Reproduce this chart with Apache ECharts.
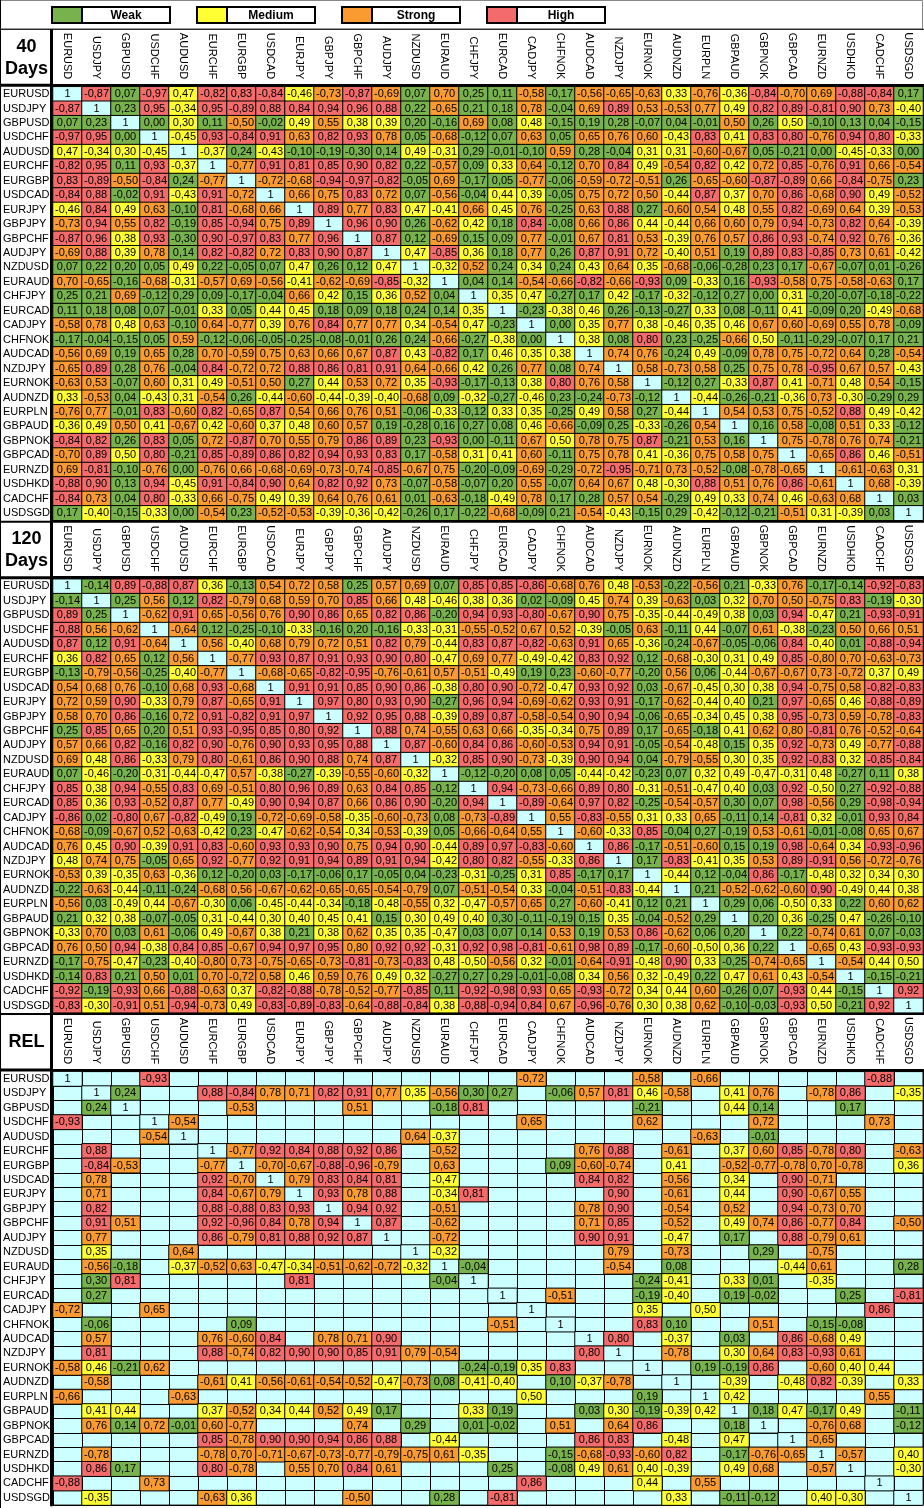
<!DOCTYPE html>
<html>
<head>
<meta charset="utf-8">
<title>Currency correlation</title>
<script src="https://cdn.jsdelivr.net/npm/echarts@6/dist/echarts.min.js"></script>
<style>
  html, body { margin: 0; padding: 0; background: #fff; }
  #chart { width: 924px; height: 1508px; }
</style>
</head>
<body>
<div id="chart"></div>
<script>
const _ = null; // blank cell

const pairs = ['EURUSD', 'USDJPY', 'GBPUSD', 'USDCHF', 'AUDUSD', 'EURCHF', 'EURGBP', 'USDCAD', 'EURJPY', 'GBPJPY',
  'GBPCHF', 'AUDJPY', 'NZDUSD', 'EURAUD', 'CHFJPY', 'EURCAD', 'CADJPY', 'CHFNOK', 'AUDCAD', 'NZDJPY',
  'EURNOK', 'AUDNZD', 'EURPLN', 'GBPAUD', 'GBPNOK', 'GBPCAD', 'EURNZD', 'USDHKD', 'CADCHF', 'USDSGD'];
const blockTitles = ['40\nDays', '120\nDays', 'REL'];
const legendLabels = ['Weak', 'Medium', 'Strong', 'High'];
const levelLimits = [0.3, 0.5, 0.8];

// lower triangles, row i holds columns 0..i-1 (matrix is symmetric, diagonal = 1)
const corr40 = [
  [],
  [-0.87],
  [0.07, 0.23],
  [-0.97, 0.95, 0.00],
  [0.47, -0.34, 0.30, -0.45],
  [-0.82, 0.95, 0.11, 0.93, -0.37],
  [0.83, -0.89, -0.50, -0.84, 0.24, -0.77],
  [-0.84, 0.88, -0.02, 0.91, -0.43, 0.91, -0.72],
  [-0.46, 0.84, 0.49, 0.63, -0.10, 0.81, -0.68, 0.66],
  [-0.73, 0.94, 0.55, 0.82, -0.19, 0.85, -0.94, 0.75, 0.89],
  [-0.87, 0.96, 0.38, 0.93, -0.298, 0.90, -0.97, 0.83, 0.77, 0.96],
  [-0.69, 0.88, 0.39, 0.78, 0.14, 0.82, -0.82, 0.72, 0.83, 0.90, 0.87],
  [0.07, 0.22, 0.20, 0.05, 0.49, 0.22, -0.05, 0.07, 0.47, 0.26, 0.12, 0.47],
  [0.70, -0.65, -0.16, -0.68, -0.31, -0.57, 0.69, -0.56, -0.41, -0.62, -0.69, -0.85, -0.32],
  [0.25, 0.21, 0.69, -0.12, 0.29, 0.09, -0.17, -0.04, 0.66, 0.42, 0.15, 0.36, 0.52, 0.04],
  [0.11, 0.18, 0.08, 0.07, -0.01, 0.33, 0.05, 0.44, 0.45, 0.18, 0.09, 0.18, 0.24, 0.14, 0.35],
  [-0.58, 0.78, 0.48, 0.63, -0.10, 0.64, -0.77, 0.39, 0.76, 0.84, 0.77, 0.77, 0.34, -0.54, 0.47, -0.23],
  [-0.17, -0.04, -0.15, 0.05, 0.59, -0.12, -0.06, -0.05, -0.25, -0.08, -0.01, 0.26, 0.24, -0.66, -0.27, -0.38, 0.00],
  [-0.56, 0.69, 0.19, 0.65, 0.28, 0.70, -0.59, 0.75, 0.63, 0.66, 0.67, 0.87, 0.43, -0.82, 0.17, 0.46, 0.35, 0.38],
  [-0.65, 0.89, 0.28, 0.76, -0.04, 0.84, -0.72, 0.72, 0.88, 0.86, 0.81, 0.91, 0.64, -0.66, 0.42, 0.26, 0.77, 0.08, 0.74],
  [-0.63, 0.53, -0.07, 0.60, 0.31, 0.49, -0.51, 0.50, 0.27, 0.44, 0.53, 0.72, 0.35, -0.93, -0.17, -0.13, 0.38, 0.80, 0.76, 0.58],
  [0.33, -0.53, 0.04, -0.43, 0.31, -0.54, 0.26, -0.44, -0.60, -0.44, -0.39, -0.40, -0.68, 0.09, -0.32, -0.27, -0.46, 0.23, -0.24, -0.73, -0.12],
  [-0.76, 0.77, -0.01, 0.83, -0.60, 0.82, -0.65, 0.87, 0.54, 0.66, 0.76, 0.51, -0.06, -0.33, -0.12, 0.33, 0.35, -0.25, 0.49, 0.58, 0.27, -0.44],
  [-0.36, 0.49, 0.50, 0.41, -0.67, 0.42, -0.60, 0.37, 0.48, 0.60, 0.57, 0.19, -0.28, 0.16, 0.27, 0.08, 0.46, -0.66, -0.09, 0.25, -0.33, -0.26, 0.54],
  [-0.84, 0.82, 0.26, 0.83, 0.05, 0.72, -0.87, 0.70, 0.55, 0.79, 0.86, 0.89, 0.23, -0.93, 0.00, -0.11, 0.67, 0.497, 0.78, 0.75, 0.87, -0.21, 0.53, 0.16],
  [-0.70, 0.89, 0.497, 0.80, -0.21, 0.85, -0.89, 0.86, 0.82, 0.94, 0.93, 0.83, 0.17, -0.58, 0.31, 0.41, 0.60, -0.11, 0.75, 0.78, 0.41, -0.36, 0.75, 0.58, 0.75],
  [0.69, -0.81, -0.10, -0.76, 0.00, -0.76, 0.66, -0.68, -0.69, -0.73, -0.74, -0.85, -0.67, 0.75, -0.20, -0.09, -0.69, -0.29, -0.72, -0.95, -0.71, 0.73, -0.52, -0.08, -0.78, -0.65],
  [-0.88, 0.90, 0.13, 0.94, -0.45, 0.91, -0.84, 0.90, 0.64, 0.82, 0.92, 0.73, -0.07, -0.58, -0.07, 0.20, 0.55, -0.07, 0.64, 0.67, 0.48, -0.30, 0.88, 0.51, 0.76, 0.86, -0.61],
  [-0.84, 0.73, 0.04, 0.80, -0.33, 0.66, -0.75, 0.49, 0.39, 0.64, 0.76, 0.61, 0.01, -0.63, -0.18, -0.49, 0.78, 0.17, 0.28, 0.57, 0.54, -0.29, 0.49, 0.33, 0.74, 0.46, -0.63, 0.68],
  [0.17, -0.40, -0.15, -0.33, 0.00, -0.54, 0.23, -0.52, -0.53, -0.39, -0.36, -0.42, -0.26, 0.17, -0.22, -0.68, -0.09, 0.21, -0.54, -0.43, -0.15, 0.29, -0.42, -0.12, -0.21, -0.51, 0.31, -0.39, 0.03]
];

const corr120 = [
  [],
  [-0.14],
  [0.89, 0.25],
  [-0.88, 0.56, -0.62],
  [0.87, 0.12, 0.91, -0.64],
  [0.36, 0.82, 0.65, 0.12, 0.56],
  [-0.13, -0.79, -0.56, -0.25, -0.40, -0.77],
  [0.54, 0.68, 0.76, -0.10, 0.68, 0.93, -0.68],
  [0.72, 0.59, 0.90, -0.33, 0.79, 0.87, -0.65, 0.91],
  [0.58, 0.70, 0.86, -0.16, 0.72, 0.91, -0.82, 0.91, 0.97],
  [0.25, 0.85, 0.65, 0.20, 0.51, 0.93, -0.95, 0.85, 0.80, 0.92],
  [0.57, 0.66, 0.82, -0.16, 0.82, 0.90, -0.76, 0.90, 0.93, 0.95, 0.88],
  [0.69, 0.48, 0.86, -0.33, 0.79, 0.80, -0.61, 0.86, 0.90, 0.88, 0.74, 0.87],
  [0.07, -0.46, -0.20, -0.31, -0.44, -0.47, 0.57, -0.38, -0.27, -0.39, -0.55, -0.60, -0.32],
  [0.85, 0.38, 0.94, -0.55, 0.83, 0.69, -0.51, 0.80, 0.96, 0.89, 0.63, 0.84, 0.85, -0.12],
  [0.85, 0.36, 0.93, -0.52, 0.87, 0.77, -0.49, 0.90, 0.94, 0.87, 0.66, 0.86, 0.90, -0.20, 0.94],
  [-0.86, 0.02, -0.80, 0.67, -0.82, -0.49, 0.19, -0.72, -0.69, -0.58, -0.35, -0.60, -0.73, 0.08, -0.73, -0.89],
  [-0.68, -0.09, -0.67, 0.52, -0.63, -0.42, 0.23, -0.47, -0.62, -0.54, -0.34, -0.53, -0.39, 0.05, -0.66, -0.64, 0.55],
  [0.76, 0.45, 0.90, -0.39, 0.91, 0.83, -0.60, 0.93, 0.93, 0.90, 0.75, 0.94, 0.90, -0.44, 0.89, 0.97, -0.83, -0.60],
  [0.48, 0.74, 0.75, -0.05, 0.65, 0.92, -0.77, 0.92, 0.91, 0.94, 0.89, 0.91, 0.94, -0.42, 0.80, 0.82, -0.55, -0.33, 0.86],
  [-0.53, 0.39, -0.35, 0.63, -0.36, 0.12, -0.20, 0.03, -0.17, -0.06, 0.17, -0.05, 0.04, -0.23, -0.31, -0.25, 0.31, 0.85, -0.17, 0.17],
  [-0.22, -0.63, -0.44, -0.11, -0.24, -0.68, 0.56, -0.67, -0.62, -0.65, -0.65, -0.54, -0.79, 0.07, -0.51, -0.54, 0.33, -0.04, -0.51, -0.83, -0.44],
  [-0.56, 0.03, -0.49, 0.44, -0.67, -0.30, 0.06, -0.45, -0.44, -0.34, -0.18, -0.48, -0.55, 0.32, -0.47, -0.57, 0.65, 0.27, -0.60, -0.41, 0.12, 0.21],
  [0.21, 0.32, 0.38, -0.07, -0.05, 0.31, -0.44, 0.30, 0.40, 0.45, 0.41, 0.15, 0.30, 0.49, 0.40, 0.298, -0.11, -0.19, 0.15, 0.35, -0.04, -0.52, 0.29],
  [-0.33, 0.70, 0.03, 0.61, -0.06, 0.49, -0.67, 0.38, 0.21, 0.38, 0.62, 0.35, 0.35, -0.47, 0.03, 0.07, 0.14, 0.53, 0.19, 0.53, 0.86, -0.62, 0.06, 0.20],
  [0.76, 0.50, 0.94, -0.38, 0.84, 0.85, -0.67, 0.94, 0.97, 0.95, 0.798, 0.92, 0.92, -0.31, 0.92, 0.98, -0.81, -0.61, 0.98, 0.89, -0.17, -0.60, -0.497, 0.36, 0.22],
  [-0.17, -0.75, -0.47, -0.23, -0.40, -0.798, 0.73, -0.75, -0.65, -0.73, -0.81, -0.73, -0.83, 0.48, -0.497, -0.56, 0.32, -0.01, -0.64, -0.91, -0.48, 0.90, 0.33, -0.25, -0.74, -0.65],
  [-0.14, 0.83, 0.21, 0.50, 0.01, 0.70, -0.72, 0.58, 0.46, 0.59, 0.76, 0.49, 0.32, -0.27, 0.27, 0.29, -0.01, -0.08, 0.34, 0.56, 0.32, -0.49, 0.22, 0.47, 0.61, 0.43, -0.54],
  [-0.92, -0.19, -0.93, 0.66, -0.88, -0.63, 0.37, -0.82, -0.88, -0.78, -0.52, -0.77, -0.85, 0.11, -0.92, -0.98, 0.93, 0.65, -0.93, -0.72, 0.34, 0.44, 0.60, -0.26, 0.07, -0.93, 0.44, -0.15],
  [-0.83, -0.30, -0.91, 0.51, -0.94, -0.73, 0.49, -0.83, -0.89, -0.83, -0.64, -0.88, -0.84, 0.38, -0.88, -0.94, 0.84, 0.67, -0.96, -0.76, 0.30, 0.38, 0.62, -0.10, -0.03, -0.93, 0.497, -0.21, 0.92]
];

const corrRel = [
  [],
  [_],
  [_, 0.24],
  [-0.93, _, _],
  [_, _, _, -0.54],
  [_, 0.88, _, _, _],
  [_, -0.84, -0.53, _, _, -0.77],
  [_, 0.78, _, _, _, 0.92, -0.70],
  [_, 0.71, _, _, _, 0.84, -0.67, 0.79],
  [_, 0.82, _, _, _, 0.88, -0.88, 0.83, 0.93],
  [_, 0.91, 0.51, _, _, 0.92, -0.96, 0.84, 0.78, 0.94],
  [_, 0.77, _, _, _, 0.86, -0.79, 0.81, 0.88, 0.92, 0.87],
  [_, 0.35, _, _, 0.64, _, _, _, _, _, _, _],
  [_, -0.56, -0.18, _, -0.37, -0.52, 0.63, -0.47, -0.34, -0.51, -0.62, -0.72, -0.32],
  [_, 0.298, 0.81, _, _, _, _, _, 0.81, _, _, _, _, -0.04],
  [_, 0.27, _, _, _, _, _, _, _, _, _, _, _, _, _],
  [-0.72, _, _, 0.65, _, _, _, _, _, _, _, _, _, _, _, _],
  [_, -0.06, _, _, _, _, 0.09, _, _, _, _, _, _, _, _, -0.51, _],
  [_, 0.57, _, _, _, 0.76, -0.60, 0.84, _, 0.78, 0.71, 0.90, _, _, _, _, _, _],
  [_, 0.81, _, _, _, 0.88, -0.74, 0.82, 0.90, 0.90, 0.85, 0.91, 0.79, -0.54, _, _, _, _, 0.80],
  [-0.58, 0.46, -0.21, 0.62, _, _, _, _, _, _, _, _, _, _, -0.24, -0.19, 0.35, 0.83, _, _],
  [_, -0.58, _, _, _, -0.61, 0.41, -0.56, -0.61, -0.54, -0.52, -0.47, -0.73, 0.08, -0.41, -0.40, _, 0.10, -0.37, -0.78, _],
  [-0.66, _, _, _, -0.63, _, _, _, _, _, _, _, _, _, _, _, 0.497, _, _, _, 0.19, _],
  [_, 0.41, 0.44, _, _, 0.37, -0.52, 0.34, 0.44, 0.52, 0.49, 0.17, _, _, 0.33, 0.19, _, _, 0.03, 0.30, -0.19, -0.39, 0.42],
  [_, 0.76, 0.14, 0.72, -0.01, 0.60, -0.77, _, _, _, 0.74, _, 0.29, _, 0.01, -0.02, _, 0.51, _, 0.64, 0.86, _, _, 0.18],
  [_, _, _, _, _, 0.85, -0.78, 0.90, 0.90, 0.94, 0.86, 0.88, _, -0.44, _, _, _, _, 0.86, 0.83, _, -0.48, _, 0.47, _],
  [_, -0.78, _, _, _, -0.78, 0.70, -0.71, -0.67, -0.73, -0.77, -0.79, -0.75, 0.61, -0.35, _, _, -0.15, -0.68, -0.93, -0.60, 0.82, _, -0.17, -0.76, -0.65],
  [_, 0.86, 0.17, _, _, 0.80, -0.78, _, 0.55, 0.70, 0.84, 0.61, _, _, _, 0.25, _, -0.08, 0.49, 0.61, 0.40, -0.39, _, 0.49, 0.68, _, -0.57],
  [-0.88, _, _, 0.73, _, _, _, _, _, _, _, _, _, _, _, _, 0.86, _, _, _, 0.44, _, 0.55, _, _, _, _, _],
  [_, -0.35, _, _, _, -0.63, 0.36, _, _, _, -0.50, _, _, 0.28, _, -0.81, _, _, _, _, _, 0.33, _, -0.11, -0.12, _, 0.40, -0.30, _]
];

const LEVEL_COLORS = ['#77b24c', '#ffff33', '#f99b30', '#f46b6b'];
const DIAG_COLOR = '#ccffff';
const FONT = '"Liberation Sans", Arial, sans-serif';

const CELL_W = 29;
const GRID_LEFT = 53;
const ROWS_TOP = [86.8, 579.2, 1071.6];
const ROWS_H = 433.5;
const HEAD_H = 54.5;

function levelOf(v) {
  const a = Math.abs(v);
  let lvl = 0;
  levelLimits.forEach(lim => { if (a >= lim - 1e-9) lvl++; });
  return lvl;
}

function fullMatrix(tri) {
  const n = pairs.length;
  const m = [];
  for (let i = 0; i < n; i++) m.push(new Array(n).fill(null));
  for (let i = 0; i < n; i++) {
    m[i][i] = 1;
    for (let j = 0; j < i; j++) {
      m[i][j] = tri[i][j];
      m[j][i] = tri[i][j];
    }
  }
  return m;
}

function fmt(p) {
  const [x, y, v] = p.value;
  if (x === y) return '1';
  return v.toFixed(2).replace('.', ',');
}

const grids = [], xAxes = [], yAxes = [], series = [], graphics = [];

[corr40, corr120, corrRel].forEach((tri, k) => {
  const m = fullMatrix(tri);
  const data = [];
  for (let i = 0; i < pairs.length; i++) {
    for (let j = 0; j < pairs.length; j++) {
      const v = m[i][j];
      if (v === null) continue;
      data.push({
        value: [j, i, v],
        itemStyle: { color: i === j ? DIAG_COLOR : LEVEL_COLORS[levelOf(v)] }
      });
    }
  }

  grids.push({
    left: GRID_LEFT, top: ROWS_TOP[k], width: CELL_W * pairs.length, height: ROWS_H,
    show: true, backgroundColor: DIAG_COLOR, borderColor: '#000', borderWidth: 1
  });

  xAxes.push({
    gridIndex: k, type: 'category', data: pairs, position: 'top', offset: 1.5,
    axisLine: { lineStyle: { color: '#000', width: 3 } },
    axisTick: { interval: 0, length: HEAD_H, lineStyle: { color: '#000', width: 1 } },
    axisLabel: { interval: 0, rotate: 90, margin: 6, fontSize: 11, color: '#000', fontFamily: FONT },
    splitLine: { show: true, interval: 0, lineStyle: { color: '#000', width: 1 } }
  });

  yAxes.push({
    gridIndex: k, type: 'category', data: pairs, inverse: true, offset: 1.5,
    axisLine: { lineStyle: { color: '#000', width: 3 } },
    axisTick: { interval: 0, length: 52, lineStyle: { color: '#000', width: 1 } },
    axisLabel: { interval: 0, align: 'left', margin: 48.5, fontSize: 11, color: '#000', fontFamily: FONT },
    splitLine: { show: true, interval: 0, lineStyle: { color: '#000', width: 1 } }
  });

  series.push({
    type: 'heatmap', xAxisIndex: k, yAxisIndex: k, data,
    itemStyle: { borderColor: '#000', borderWidth: 1 },
    label: { show: true, fontSize: 11, color: '#000', fontFamily: FONT, formatter: fmt },
    emphasis: { disabled: true }
  });

  // header band: top rule, corner cell and thick separators
  const headTop = ROWS_TOP[k] - 3 - HEAD_H;
  graphics.push({
    type: 'line', z: 10,
    shape: { x1: 0, y1: headTop, x2: 924, y2: headTop },
    style: { stroke: '#000', lineWidth: k === 0 ? 1 : 2 }
  });
  graphics.push({
    type: 'line', z: 10,
    shape: { x1: 0, y1: ROWS_TOP[k] - 1.5, x2: GRID_LEFT, y2: ROWS_TOP[k] - 1.5 },
    style: { stroke: '#000', lineWidth: 3 }
  });
  graphics.push({
    type: 'line', z: 10,
    shape: { x1: GRID_LEFT - 1.5, y1: headTop, x2: GRID_LEFT - 1.5, y2: ROWS_TOP[k] },
    style: { stroke: '#000', lineWidth: 3 }
  });
  graphics.push({
    type: 'text', z: 10,
    style: {
      text: blockTitles[k], x: 26.5, y: headTop + HEAD_H / 2 + 1,
      textAlign: 'center', textVerticalAlign: 'middle',
      font: 'bold 18px ' + FONT, fill: '#000', lineHeight: 22
    }
  });
});

// outer frame
graphics.push({
  type: 'line', z: 10, shape: { x1: 0.5, y1: 0, x2: 0.5, y2: 1508 },
  style: { stroke: '#000', lineWidth: 1 }
});
graphics.push({
  type: 'rect', z: 9, shape: { x: 0.5, y: 0.5, width: 922, height: 28.5 },
  style: { fill: '#fff', stroke: '#888', lineWidth: 1 }
});

// legend
legendLabels.forEach((name, i) => {
  const x0 = 52 + 145 * i;
  graphics.push({
    type: 'rect', z: 11, shape: { x: x0, y: 7, width: 30, height: 16 },
    style: { fill: LEVEL_COLORS[i], stroke: '#000', lineWidth: 2 }
  });
  graphics.push({
    type: 'rect', z: 11, shape: { x: x0 + 30, y: 7, width: 88, height: 16 },
    style: { fill: '#fff', stroke: '#000', lineWidth: 2 }
  });
  graphics.push({
    type: 'text', z: 12,
    style: {
      text: name, x: x0 + 74, y: 15.5, textAlign: 'center', textVerticalAlign: 'middle',
      font: 'bold 12px ' + FONT, fill: '#000'
    }
  });
});

const chart = echarts.init(document.getElementById('chart'));
chart.setOption({
  animation: false,
  backgroundColor: '#fff',
  grid: grids,
  xAxis: xAxes,
  yAxis: yAxes,
  series,
  graphic: graphics
});
</script>
</body>
</html>
